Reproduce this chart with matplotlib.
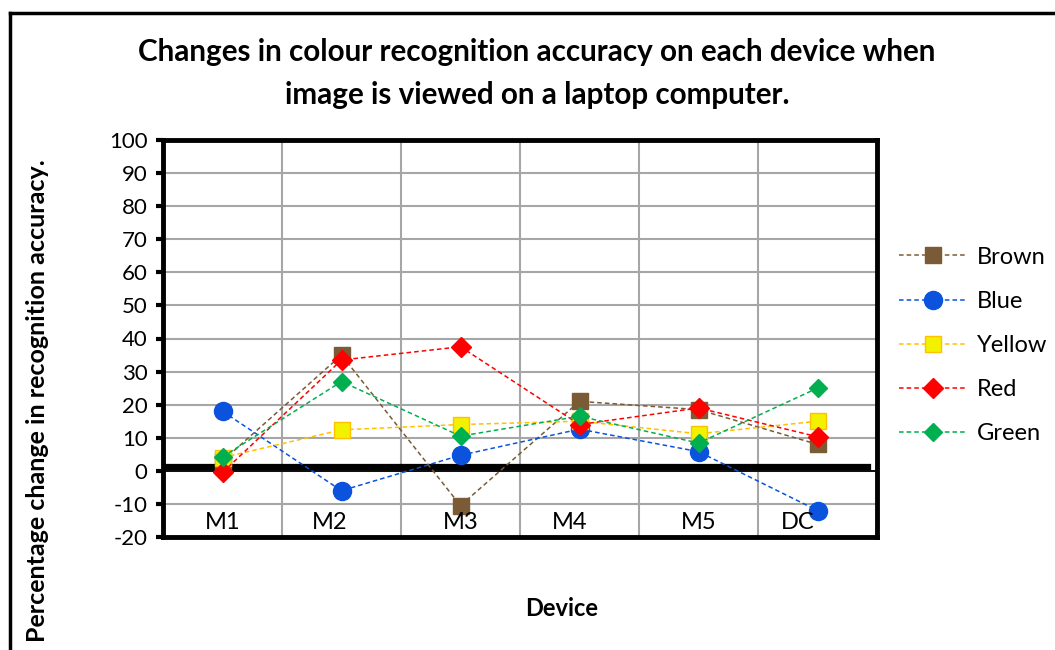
import numpy as np
import matplotlib
matplotlib.use("Agg")
import matplotlib.pyplot as plt
from matplotlib.lines import Line2D

plt.rcParams['font.family'] = ['Lato', 'DejaVu Sans']
plt.rcParams['axes.unicode_minus'] = False

# data
devices = ['M1', 'M2', 'M3', 'M4', 'M5', 'DC']
brown = [3, 35, -10.5, 21, 18.5, 8]
blue = [18, -6, 4.7, 12.6, 5.8, -12]
yellow = [4, 12.4, 14, 15, 11.2, 15]
red = [-0.5, 33.5, 37.5, 14, 19, 10.3]
green = [4.2, 27, 10.5, 16.5, 8.4, 25]

# label positions (Excel text boxes were a bit off-centre)
label_x = [0.0, 0.9, 2.0, 2.92, 4.0, 4.83]
label_y = -15.5

series = [
    ('Brown', brown, dict(color='#7B5B35', marker='s', ms=12, mfc='#7B5B35', mec='#7B5B35')),
    ('Blue', blue, dict(color='#0B52DC', marker='o', ms=13, mfc='#0B52DC', mec='#0B52DC')),
    ('Yellow', yellow, dict(color='#FFC000', marker='s', ms=12, mfc='#F2F200', mec='#FFC000')),
    ('Red', red, dict(color='#FF0000', marker='D', ms=10, mfc='#FF0000', mec='#FF0000')),
    ('Green', green, dict(color='#00B050', marker='D', ms=9, mfc='#00B050', mec='#00B050')),
]

fig = plt.figure(figsize=(10.55, 6.5), dpi=100)
ax = fig.add_axes([163 / 1055, 1 - 537 / 650, (877 - 163) / 1055, (537 - 140) / 650])

x = np.arange(len(devices))
for name, vals, style in series:
    ax.plot(x, vals, linestyle=(0, (3, 2)), lw=1.1, label=name, zorder=3, **style)

ax.set_xlim(-0.5, len(devices) - 0.5)
ax.set_ylim(-20, 100)
ax.set_yticks(np.arange(-20, 101, 10))
ax.set_xticks(np.arange(0.5, len(devices) - 0.5, 1))
ax.set_xticklabels([])
ax.tick_params(axis='x', length=0)
ax.tick_params(axis='y', direction='out', length=5, width=3, labelsize=16, pad=6)
ax.grid(True, color='#A6A6A6', lw=1.5, zorder=0)
for sp in ax.spines.values():
    sp.set_linewidth(3.5)
    sp.set_color('black')

# axis crossing at zero plus the thick drawn line
ax.axhline(0, color='black', lw=1.3, zorder=2)
ax.axhline(1.3, xmax=0.987, color='black', lw=4.5, zorder=2)

for lx, lab in zip(label_x, devices):
    ax.text(lx, label_y, lab, ha='center', va='center', fontsize=17)

fig.text(537 / 1055, 1 - 52 / 650, 'Changes in colour recognition accuracy on each device when',
         ha='center', va='center', fontsize=21.3, fontweight='bold')
fig.text(537 / 1055, 1 - 95 / 650, 'image is viewed on a laptop computer.',
         ha='center', va='center', fontsize=21.3, fontweight='bold')
fig.text(562 / 1055, 1 - 609 / 650, 'Device', ha='center', va='center',
         fontsize=17, fontweight='bold')
fig.text(38 / 1055, 1 - 401 / 650, 'Percentage change in recognition accuracy.',
         ha='center', va='center', rotation=90, fontsize=18, fontweight='bold')

fig.legend(loc='center left', bbox_to_anchor=(899 / 1055, 1 - 345.5 / 650),
           frameon=False, fontsize=17, handlelength=2.9, handletextpad=0.4,
           labelspacing=0.98, borderpad=0, borderaxespad=0)

# outer chart border (cropped on right and bottom)
fig.add_artist(Line2D([10 / 1055, 10 / 1055], [0, 1 - 13 / 650], transform=fig.transFigure,
                      color='black', lw=2.5))
fig.add_artist(Line2D([10 / 1055, 1], [1 - 13 / 650, 1 - 13 / 650], transform=fig.transFigure,
                      color='black', lw=2.5))

fig.savefig('out.png', dpi=100)
